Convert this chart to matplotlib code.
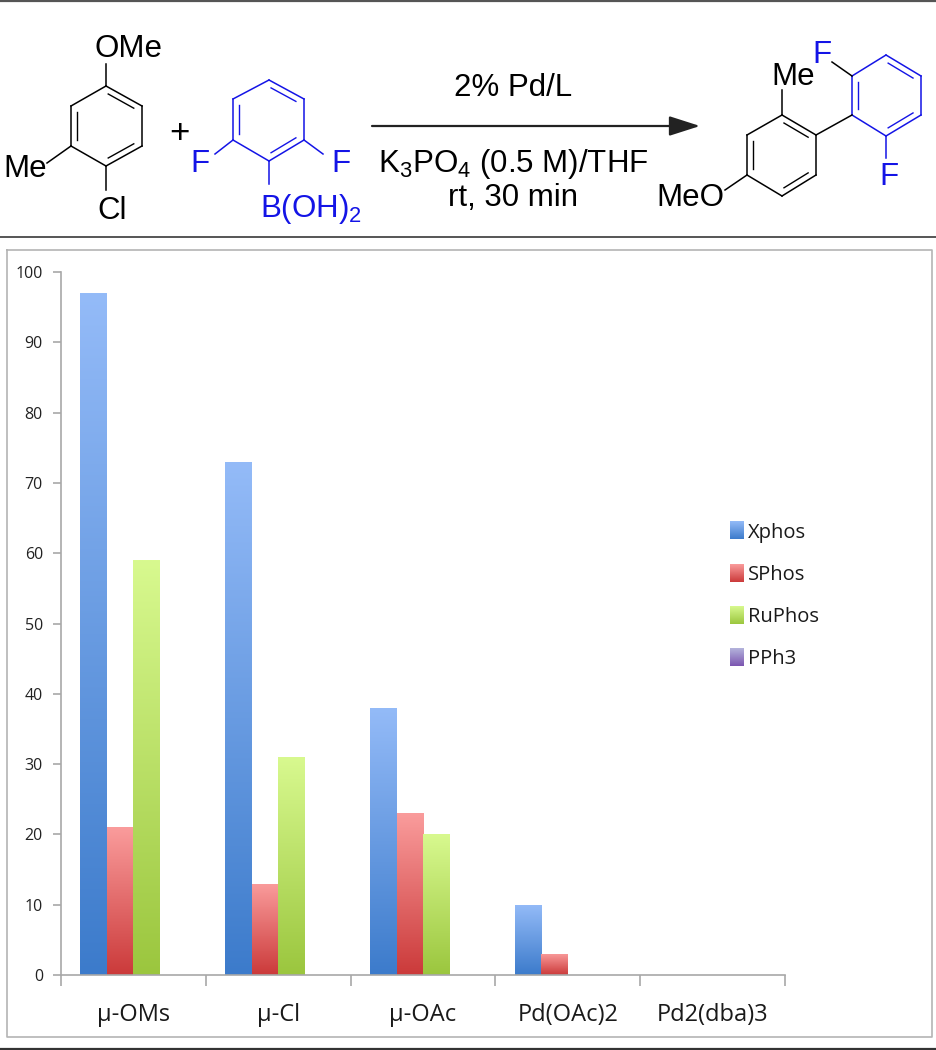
import numpy as np
import matplotlib
matplotlib.use('Agg')
import matplotlib.pyplot as plt
from matplotlib.colors import LinearSegmentedColormap
from matplotlib.image import BboxImage
from matplotlib.legend_handler import HandlerBase
from matplotlib.patches import Patch
from matplotlib.transforms import Bbox, TransformedBbox

plt.rcParams['mathtext.default'] = 'regular'

W, H = 937, 1050

categories = ['µ-OMs', 'µ-Cl', 'µ-OAc', 'Pd(OAc)2', 'Pd2(dba)3']
series_names = ['Xphos', 'SPhos', 'RuPhos', 'PPh3']
xphos = [97, 73, 38, 10, 0]
sphos = [21, 13, 23, 3, 0]
ruphos = [59, 31, 20, 0, 0]
pph3 = [0, 0, 0, 0, 0]
yticks = [0, 10, 20, 30, 40, 50, 60, 70, 80, 90, 100]

# top (light) and bottom (dark) colour of each series gradient
tops = ['#94bbf8', '#fa9c9c', '#d8f98f', '#b4b4dc']
bottoms = ['#3c7bcb', '#cb3a3a', '#9bc63e', '#7c55b0']
cmaps = [LinearSegmentedColormap.from_list(n, [b, t])
         for n, b, t in zip(series_names, bottoms, tops)]
grad = np.linspace(0, 1, 256).reshape(-1, 1)

BLUE = '#1414e6'
SCHEME_FONT = 'Liberation Sans'
CHART_FONT = 'Open Sans'


# Ring bonds with inner double bond lines
def draw_ring(ax, pts, doubles, colour):
    pts = np.array(pts, dtype=float)
    centre = pts.mean(axis=0)
    n = len(pts)
    for i in range(n):
        a, b = pts[i], pts[(i + 1) % n]
        ax.plot([a[0], b[0]], [a[1], b[1]], color=colour, lw=1.1)
        if i in doubles:
            a2 = a + (centre - a) * 0.17 + (b - a) * 0.06
            b2 = b + (centre - b) * 0.17 + (a - b) * 0.06
            ax.plot([a2[0], b2[0]], [a2[1], b2[1]], color=colour, lw=1.0)


def bond(ax, p, q, colour='black'):
    ax.plot([p[0], q[0]], [p[1], q[1]], color=colour, lw=1.1)


def label(ax, x, y, s, colour='black', size=22.5):
    ax.text(x, y, s, color=colour, fontsize=size, family=SCHEME_FONT,
            ha='center', va='center')


# Legend swatch with the same gradient as the bars
class GradientHandler(HandlerBase):
    def create_artists(self, legend, orig_handle, xdescent, ydescent, width, height,
                       fontsize, trans):
        box = Bbox.from_bounds(-xdescent, -ydescent, width, height)
        im = BboxImage(TransformedBbox(box, trans), cmap=orig_handle.cmap, origin='lower')
        im.set_data(grad)
        return [im]


fig = plt.figure(figsize=(W / 100, H / 100), dpi=100, facecolor='white')

# Pixel-space layer for the reaction scheme and the rules
bg = fig.add_axes([0, 0, 1, 1])
bg.set_xlim(0, W)
bg.set_ylim(H, 0)
bg.axis('off')

for y, c, lw in [(1, '#555555', 1.6), (237, '#555555', 1.4), (1049, '#333333', 1.6)]:
    bg.plot([0, W], [y, y], color=c, lw=lw)
bg.plot([7, 932, 932, 7, 7], [250, 250, 1037, 1037, 250], color='#b4b4b4', lw=1.2)

# Aryl chloride
draw_ring(bg, [(106, 86), (142, 106), (142, 146), (106, 166), (71, 146), (71, 106)],
          [0, 2, 4], 'black')
bond(bg, (106, 86), (106, 64))
bond(bg, (71, 146), (47, 163))
bond(bg, (106, 166), (106, 190))
label(bg, 129, 49, 'OMe')
label(bg, 25, 169, 'Me')
label(bg, 112, 211, 'Cl')
label(bg, 179, 134, '+', size=25)

# Boronic acid
draw_ring(bg, [(269, 80), (304, 99), (304, 140), (269, 161), (233, 140), (233, 99)],
          [0, 2, 4], BLUE)
bond(bg, (233, 140), (215, 154), BLUE)
bond(bg, (304, 140), (323, 154), BLUE)
bond(bg, (269, 161), (269, 184), BLUE)
label(bg, 200, 164, 'F', BLUE)
label(bg, 341, 164, 'F', BLUE)
label(bg, 311, 209, 'B(OH)$_2$', BLUE)

# Reaction arrow and conditions
bg.annotate('', xy=(700, 126), xytext=(372, 126),
            arrowprops=dict(arrowstyle='-|>,head_length=1.0,head_width=0.32',
                            color='#222222', lw=1.6, shrinkA=0, shrinkB=0,
                            mutation_scale=19))
label(bg, 513, 88, '2% Pd/L')
label(bg, 513, 164, 'K$_3$PO$_4$ (0.5 M)/THF')
label(bg, 513, 198, 'rt, 30 min')

# Product
draw_ring(bg, [(782, 115), (816, 135), (816, 175), (782, 196), (747, 175), (747, 135)],
          [0, 2, 4], 'black')
draw_ring(bg, [(886, 55), (921, 76), (921, 115), (886, 136), (852, 115), (852, 76)],
          [0, 2, 4], BLUE)
bond(bg, (816, 135), (852, 115))
bond(bg, (782, 115), (782, 90))
bond(bg, (747, 175), (725, 190))
bond(bg, (852, 76), (832, 62))
bond(bg, (886, 136), (886, 158), BLUE)
label(bg, 793, 77, 'Me')
label(bg, 822, 55, 'F', BLUE)
label(bg, 889, 177, 'F', BLUE)
label(bg, 690, 198, 'MeO')

# Bar chart
ax = fig.add_axes([61 / W, 1 - 975 / H, (785 - 61) / W, (975 - 272) / H])
ax.patch.set_alpha(0)

x = np.arange(len(categories))
bar_w = 0.183
all_series = [xphos, sphos, ruphos, pph3]
for i, vals in enumerate(all_series):
    bars = ax.bar(x + (i - 1.5) * bar_w, vals, bar_w, color=bottoms[i], linewidth=0)
    for b in bars:
        if b.get_height() <= 0:
            continue
        # gradient clipped to the bar
        im = ax.imshow(grad, cmap=cmaps[i], origin='lower', aspect='auto', zorder=2,
                       extent=(b.get_x(), b.get_x() + b.get_width(), 0, b.get_height()))
        im.set_clip_path(b)

ax.set_xlim(-0.5, len(categories) - 0.5)
ax.set_ylim(0, 100)
ax.set_yticks(yticks)
ax.set_xticks(np.arange(len(categories) + 1) - 0.5)
ax.set_xticklabels([])
ax.set_xticks(x, minor=True)
ax.set_xticklabels(categories, minor=True, family=CHART_FONT, fontsize=17, color='#1a1a1a')
ax.tick_params(axis='x', which='major', length=8, width=1.2, color='#a8a8a8')
ax.tick_params(axis='x', which='minor', length=0, pad=20)
ax.tick_params(axis='y', length=6, width=1.2, color='#a8a8a8', pad=7, labelsize=11.5,
               labelcolor='#222222')
for t in ax.get_yticklabels():
    t.set_family(CHART_FONT)
for s in ['top', 'right']:
    ax.spines[s].set_visible(False)
for s in ['left', 'bottom']:
    ax.spines[s].set_color('#a8a8a8')
    ax.spines[s].set_linewidth(1.2)

handles = [Patch(label=series_names[i]) for i in range(4)]
for h, c in zip(handles, cmaps):
    h.cmap = c
leg = fig.legend(handles=handles, loc='upper left', bbox_to_anchor=(712 / W, 1 - 504 / H),
                 bbox_transform=fig.transFigure, frameon=False, handlelength=0.65,
                 handleheight=0.95, handletextpad=0.25, labelspacing=1.07,
                 handler_map={Patch: GradientHandler()},
                 prop={'family': CHART_FONT, 'size': 14.5})
for t in leg.get_texts():
    t.set_color('#1a1a1a')

fig.savefig('out.png', dpi=100)
